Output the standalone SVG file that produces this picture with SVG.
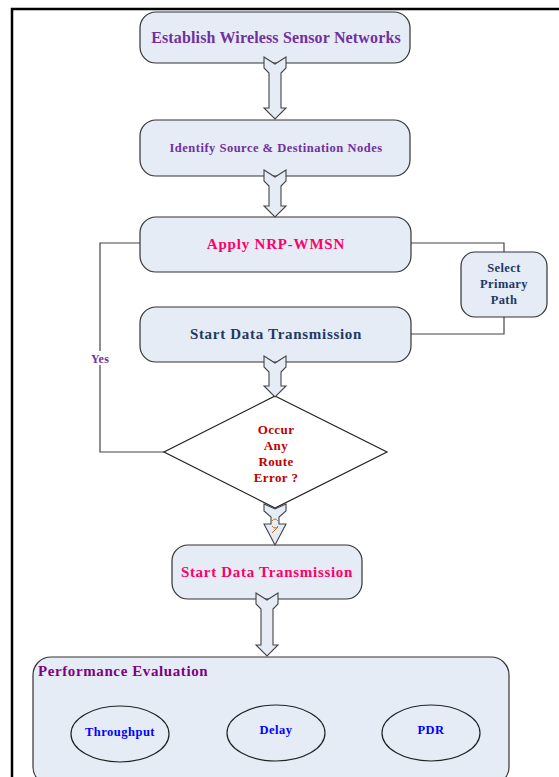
<svg xmlns="http://www.w3.org/2000/svg" width="559" height="777" viewBox="0 0 559 777">
<style>
.box{fill:#E5ECF6;stroke:#333;stroke-width:1.2}
.arr{fill:#E5ECF6;stroke:#444;stroke-width:1.1;stroke-linejoin:miter}
.conn{fill:none;stroke:#444;stroke-width:1.2}
.t{font-family:"Liberation Serif","Times New Roman",serif;font-weight:bold;text-anchor:middle}
.ell{fill:none;stroke:#222;stroke-width:1.2}
</style>
<rect width="559" height="777" fill="#fff"/>
<path d="M12,777 L12,9 L559,9" fill="none" stroke="#000" stroke-width="2.5"/>

<g id="connectors">
  <path class="conn" d="M140,243 L100,243 L100,452 L164,452"/>
  <path class="conn" d="M411,243 L504,243 L504,252"/>
  <path class="conn" d="M504,317 L504,334 L411,334"/>
  <rect x="88" y="351" width="24" height="14" fill="#fff"/>
  <text class="t" x="100" y="363" font-size="12" fill="#7030A0" letter-spacing="0.3">Yes</text>
</g>

<g id="n1">
  <rect class="box" x="140" y="12" width="270" height="51" rx="16"/>
  <text class="t" x="276" y="43" font-size="16" fill="#7030A0" letter-spacing="0.15">Establish Wireless Sensor Networks</text>
</g>
<g id="n2">
  <rect class="box" x="140" y="120" width="270" height="56" rx="16"/>
  <text class="t" x="276" y="152" font-size="12.5" fill="#7030A0" letter-spacing="0.5">Identify Source &amp; Destination Nodes</text>
</g>
<g id="n3">
  <rect class="box" x="140" y="217" width="271" height="55" rx="16"/>
  <text class="t" x="276" y="249" font-size="15" fill="#FF0066" letter-spacing="0.8">Apply NRP-WMSN</text>
</g>
<g id="n4">
  <rect class="box" x="461" y="252" width="86" height="65" rx="14"/>
  <text class="t" x="504" y="272" font-size="12.5" fill="#1F3864" letter-spacing="0.4">Select</text>
  <text class="t" x="504" y="288" font-size="12.5" fill="#1F3864" letter-spacing="0.4">Primary</text>
  <text class="t" x="504" y="304" font-size="12.5" fill="#1F3864" letter-spacing="0.4">Path</text>
</g>
<g id="n5">
  <rect class="box" x="140" y="307" width="271" height="55" rx="16"/>
  <text class="t" x="276" y="339" font-size="15" fill="#1F3864" letter-spacing="0.7">Start Data Transmission</text>
</g>
<g id="n6">
  <polygon points="275,396 387,452 275,508 164,452" fill="#fff" stroke="#222" stroke-width="1.2"/>
  <text class="t" x="276" y="434" font-size="13" fill="#C00000" letter-spacing="0.4">Occur</text>
  <text class="t" x="276" y="450" font-size="13" fill="#C00000" letter-spacing="0.4">Any</text>
  <text class="t" x="276" y="466" font-size="13" fill="#C00000" letter-spacing="0.4">Route</text>
  <text class="t" x="276" y="482" font-size="13" fill="#C00000" letter-spacing="0.4">Error ?</text>
</g>
<g id="n7">
  <rect class="box" x="172" y="545" width="190" height="54" rx="16"/>
  <text class="t" x="267" y="577" font-size="15" fill="#FF0066" letter-spacing="0.7">Start Data Transmission</text>
</g>
<g id="n8">
  <rect class="box" x="33" y="657" width="476" height="128" rx="18"/>
  <text class="t" x="38" y="676" font-size="15" fill="#800080" letter-spacing="0.6" style="text-anchor:start">Performance Evaluation</text>
</g>
<g id="n9">
  <ellipse class="ell" cx="120" cy="734" rx="49" ry="28"/>
  <text class="t" x="120" y="736" font-size="12.5" fill="#0000FF" letter-spacing="0.5">Throughput</text>
</g>
<g id="n10">
  <ellipse class="ell" cx="276" cy="733" rx="49" ry="28"/>
  <text class="t" x="276" y="734" font-size="12.5" fill="#0000FF" letter-spacing="0.5">Delay</text>
</g>
<g id="n11">
  <ellipse class="ell" cx="431" cy="733" rx="49" ry="28"/>
  <text class="t" x="431" y="734" font-size="12.5" fill="#0000FF" letter-spacing="0.5">PDR</text>
</g>

<g id="arrows">
  <path class="arr" d="M264,57 L275,64 L286,57 L286,68 L281,73 L281,108 L286,108 L275,119 L264,108 L269,108 L269,73 L264,68 Z"/>
  <path class="arr" d="M264,170 L275,177 L286,170 L286,181 L281,186 L281,206 L286,206 L275,217 L264,206 L269,206 L269,186 L264,181 Z"/>
  <path class="arr" d="M264,356 L275,363 L286,356 L286,367 L281,372 L281,386 L286,386 L275,397 L264,386 L269,386 L269,372 L264,367 Z"/>
  <path class="arr" d="M264,504 L275,509 L286,504 L286,511 L279,517 L279,524 L286,524 L275,545 L264,524 L271,524 L271,517 L264,511 Z"/>
  <path d="M272,521 Q275,517 278,521 M272,526 Q275,530 278,526 M272,533 L278,527" fill="none" stroke="#C07020" stroke-width="1"/>
  <path class="arr" d="M256,593 L267,600 L278,593 L278,604 L273,609 L273,645 L278,645 L267,656 L256,645 L261,645 L261,609 L256,604 Z"/>
</g>
</svg>
